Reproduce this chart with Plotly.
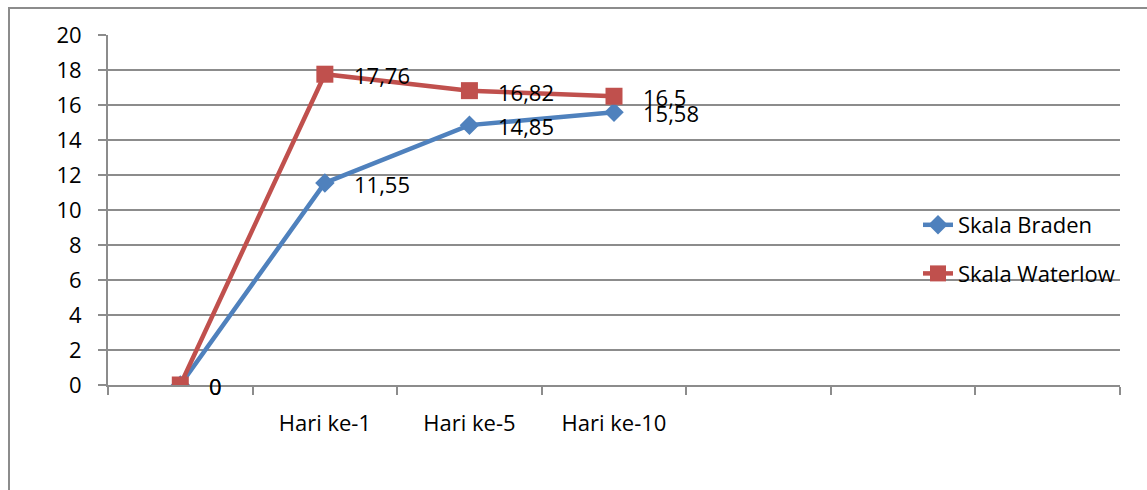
import plotly.graph_objects as go

categories = [" ", "Hari ke-1", "Hari ke-5", "Hari ke-10", "  ", "   ", "    "]
point_categories = [" ", "Hari ke-1", "Hari ke-5", "Hari ke-10"]
braden = [0, 11.55, 14.85, 15.58]
waterlow = [0, 17.76, 16.82, 16.5]
y_ticks = [0, 2, 4, 6, 8, 10, 12, 14, 16, 18, 20]

BLUE = "#4F81BD"
RED = "#C0504D"
GRID = "#8C8C8C"
FONT = "Open Sans"
FS = 22


def fmt(v):
    return f"{v:g}".replace(".", ",")


fig = go.Figure()
fig.add_trace(go.Scatter(
    x=point_categories, y=braden, name="Skala Braden", mode="lines+markers",
    line=dict(color=BLUE, width=4.5),
    marker=dict(symbol="diamond", size=15, color=BLUE),
    legendgroup="a",
))
fig.add_trace(go.Scatter(
    x=point_categories, y=waterlow, name="Skala Waterlow", mode="lines+markers",
    line=dict(color=RED, width=4.5),
    marker=dict(symbol="square", size=17, color=RED),
    legendgroup="b",
))

annotations = []
for xs, ys in ((point_categories, braden), (point_categories, waterlow)):
    for cx, v in zip(xs, ys):
        annotations.append(dict(
            x=cx, y=v, xref="x", yref="y", text=fmt(v), showarrow=False,
            xanchor="left", yanchor="middle", xshift=27, yshift=-1,
            font=dict(family=FONT, size=FS, color="#000000"),
        ))

# plot area pixel geometry for border shape
L, R, T, B = 108, 27, 35, 105
W = 1147 - L - R
H = 490 - T - B

fig.update_layout(
    width=1147, height=490,
    margin=dict(l=L, r=R, t=T, b=B),
    paper_bgcolor="white", plot_bgcolor="white",
    font=dict(family=FONT, size=FS, color="#000000"),
    showlegend=True,
    legend=dict(
        x=(918 - L) / W, xanchor="left",
        y=(T + H - 204) / H, yanchor="top",
        bgcolor="rgba(0,0,0,0)", traceorder="grouped", tracegroupgap=17,
        font=dict(family=FONT, size=FS, color="#000000"),
    ),
    xaxis=dict(
        type="category", categoryorder="array", categoryarray=categories,
        range=[-0.5, len(categories) - 0.5],
        tickson="boundaries", ticks="outside", ticklen=8, tickcolor=GRID, tickwidth=2,
        showline=True, linecolor=GRID, linewidth=2,
        showgrid=False, ticklabelstandoff=18,
        tickfont=dict(family=FONT, size=FS, color="#000000"),
    ),
    yaxis=dict(
        range=[0, 20], tickvals=y_ticks,
        ticks="outside", ticklen=8, tickcolor=GRID, tickwidth=2,
        showline=True, linecolor=GRID, linewidth=2,
        showgrid=True, gridcolor=GRID, gridwidth=2,
        zeroline=False, ticklabelstandoff=12,
        tickfont=dict(family=FONT, size=FS, color="#000000"),
    ),
    annotations=annotations,
    shapes=[dict(
        type="rect", xref="paper", yref="paper",
        x0=(9 - L) / W, x1=(1160 - L) / W,
        y0=(T + H - 520) / H, y1=(T + H - 8) / H,
        line=dict(color=GRID, width=2), fillcolor="rgba(0,0,0,0)", layer="below",
    )],
)

fig.write_html("out.html")
